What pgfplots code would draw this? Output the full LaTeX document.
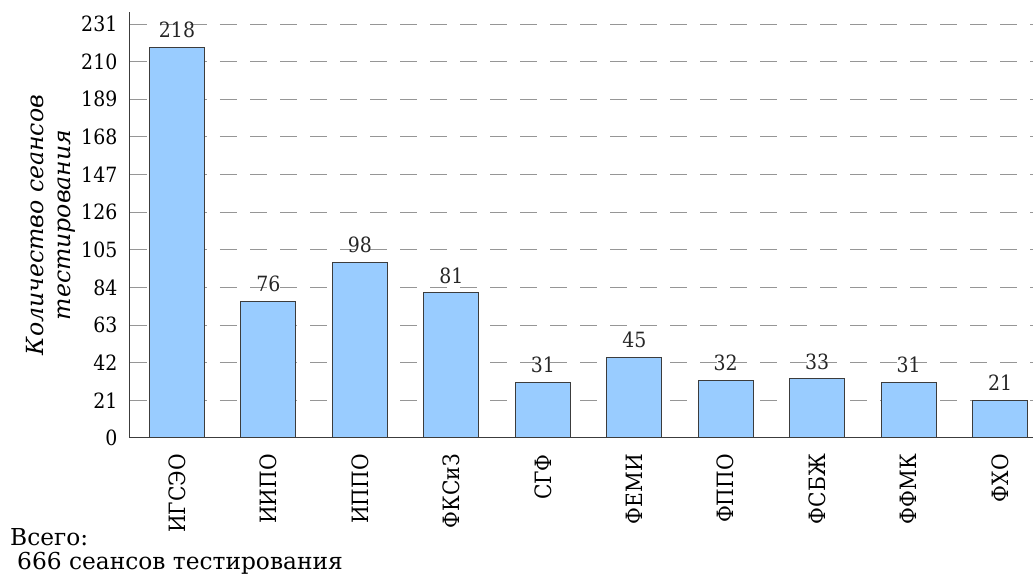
\documentclass[border=0pt]{standalone}
\usepackage{fontspec}
\setmainfont{DejaVu Serif}
\newfontfamily\cond{DejaVu Serif Condensed}
\usepackage{pgfplots}
\pgfplotsset{compat=1.18}
\definecolor{barblue}{RGB}{153,204,255}
\definecolor{gridgray}{RGB}{150,150,150}
\definecolor{axgray}{RGB}{60,60,60}
\begin{document}
\begin{tikzpicture}
\begin{axis}[
  scale only axis,
  width=903pt, height=426pt,
  xmin=-0.514, xmax=9.36,
  ymin=0, ymax=237.7,
  axis x line*=bottom,
  axis y line*=left,
  axis line style={axgray, line width=1pt},
  ytick={0,21,42,63,84,105,126,147,168,189,210,231},
  yticklabel={\pgfmathprintnumber[assume math mode=true]{\tick}},
  xtick=data,
  xticklabels={ИГСЭО,ИИПО,ИППО,ФКСиЗ,СГФ,ФЕМИ,ФППО,ФСБЖ,ФФМК,ФХО},
  major tick length=0pt,
  ymajorgrids,
  major grid style={gridgray, line width=1pt, dash pattern=on 17pt off 13pt},
  /pgf/number format/assume math mode=true,
  yticklabel style={font=\cond\fontsize{21}{22}\selectfont, inner sep=0pt, xshift=-12.5pt},
  xticklabel style={font=\cond\fontsize{22.5}{24}\selectfont, rotate=90, anchor=east, inner sep=0pt, xshift=-16pt},
  ylabel={\itshape Количество сеансов\\\itshape тестирования},
  ylabel style={font=\fontsize{23.6}{27}\selectfont, align=center, at={(axis description cs:-0.0875,0.5)}, anchor=center},
  nodes near coords,
  nodes near coords style={font=\cond\fontsize{21}{22}\selectfont, text=black!85, inner sep=0pt, yshift=9pt, anchor=south},
  clip=false,
]
\addplot[ybar, bar width=55pt, fill=barblue, draw=axgray, line width=1pt] coordinates {
(0,218) (1,76) (2,98) (3,81) (4,31) (5,45) (6,32) (7,33) (8,31) (9,21)};
\end{axis}
\node[anchor=base west, align=left, inner sep=0pt, font=\fontsize{23.3}{25}\selectfont] at (-120pt,-107pt) {Всего:};
\node[anchor=base west, align=left, inner sep=0pt, font=\fontsize{23.3}{25}\selectfont] at (-113pt,-131pt) {666 сеансов тестирования};
\pgfresetboundingbox
\path (-130pt,438pt) rectangle (903pt,-137pt);
\end{tikzpicture}
\end{document}
